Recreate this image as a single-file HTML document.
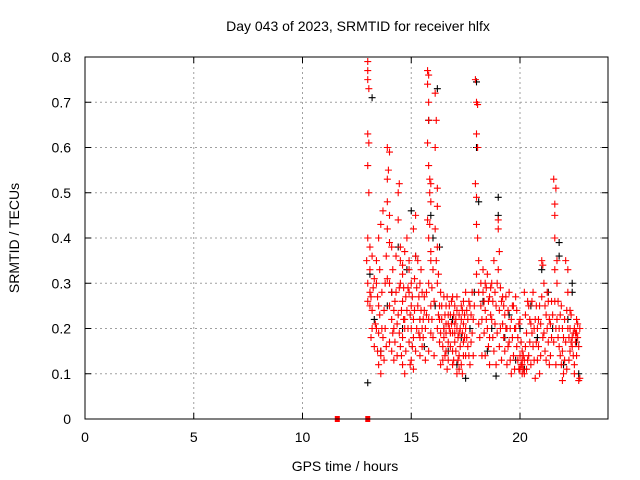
<!DOCTYPE html>
<html><head><meta charset="utf-8"><style>
body{margin:0;background:#fff;}
svg{display:block;font-family:"Liberation Sans",sans-serif;}
</style></head><body>
<svg id="chart" width="640" height="480">
<g id="grid"></g>
<g id="pts"></g>
<rect x="85" y="57" width="523" height="362" fill="none" stroke="#000"/>
<g id="ticks"></g>
<text x="358" y="31" text-anchor="middle" font-size="14">Day 043 of 2023, SRMTID for receiver hlfx</text>
<text x="345" y="471" text-anchor="middle" font-size="14">GPS time / hours</text>
<text transform="translate(19,238) rotate(-90)" text-anchor="middle" font-size="14">SRMTID / TECUs</text>
</svg>
<script>
const xTicks=[0,5,10,15,20];
const yTicks=[0,0.1,0.2,0.3,0.4,0.5,0.6,0.7,0.8];
const yTickLabels=["0","0.1","0.2","0.3","0.4","0.5","0.6","0.7","0.8"];
const zeroHours=[11.6,13.0];
const blackPts=[[13.0,0.08],[13.1,0.32],[13.2,0.71],[13.3,0.22],[13.6,0.15],[13.9,0.25],[14.1,0.28],[14.4,0.38],[14.6,0.2],[14.8,0.33],[15.0,0.46],[15.2,0.36],[15.4,0.22],[15.6,0.16],[15.8,0.66],[15.9,0.45],[16.0,0.4],[16.1,0.25],[16.2,0.73],[16.3,0.38],[16.5,0.2],[16.7,0.15],[16.9,0.22],[17.1,0.12],[17.3,0.18],[17.5,0.09],[17.7,0.2],[17.9,0.28],[18.0,0.745],[18.0,0.6],[18.1,0.48],[18.3,0.26],[18.5,0.15],[18.7,0.2],[18.9,0.095],[19.0,0.49],[19.0,0.45],[19.3,0.18],[19.5,0.23],[19.8,0.13],[20.0,0.2],[20.2,0.11],[20.5,0.25],[20.8,0.18],[21.0,0.33],[21.3,0.28],[21.5,0.2],[21.8,0.39],[21.8,0.36],[22.0,0.12],[22.2,0.22],[22.4,0.3],[22.4,0.28],[22.6,0.17],[22.7,0.1]];
const redPts=[
[13.0,0.79],[13.0,0.77],[13.0,0.75],[13.05,0.73],[13.0,0.63],[13.05,0.61],[13.0,0.56],[13.05,0.5],[13.0,0.4],[12.95,0.35],[13.1,0.33],[13.0,0.3],[13.1,0.28],[13.0,0.26],[13.1,0.25],[13.2,0.2],[13.1,0.38],[13.2,0.36],[13.3,0.31],
[13.4,0.35],[13.4,0.3],[13.5,0.25],[13.4,0.2],[13.5,0.19],[13.6,0.15],[13.5,0.12],[13.6,0.1],[13.6,0.14],[13.7,0.18],[13.6,0.43],[13.7,0.46],[13.5,0.4],
[13.9,0.6],[14.0,0.59],[13.9,0.53],[13.95,0.55],[13.9,0.48],[14.0,0.45],[13.9,0.42],[14.0,0.39],[14.1,0.38],[13.9,0.31],[14.0,0.3],[14.1,0.28],[14.0,0.25],[14.1,0.22],[14.2,0.2],[14.0,0.17],[14.1,0.15],[14.2,0.13],[14.2,0.24],
[14.3,0.28],[14.3,0.36],[14.4,0.5],[14.45,0.52],[14.4,0.44],[14.5,0.38],[14.5,0.35],[14.6,0.32],[14.5,0.3],[14.6,0.26],[14.4,0.23],[14.7,0.2],[14.6,0.18],[14.5,0.16],[14.7,0.22],[14.8,0.24],[14.6,0.12],[14.7,0.1],[14.7,0.37],[14.6,0.34],
[14.8,0.4],[14.9,0.35],[14.9,0.33],[15.0,0.3],[14.9,0.28],[15.0,0.25],[15.1,0.22],[15.0,0.2],[15.1,0.18],[15.2,0.15],[15.0,0.13],[15.1,0.11],[15.1,0.42],[15.2,0.45],[15.2,0.36],[14.9,0.17],
[15.3,0.35],[15.4,0.3],[15.3,0.25],[15.4,0.22],[15.5,0.2],[15.4,0.18],[15.5,0.16],[15.4,0.14],[15.6,0.24],[15.5,0.28],
[15.75,0.77],[15.8,0.76],[15.75,0.74],[15.8,0.7],[15.8,0.66],[15.75,0.61],[15.8,0.56],[15.85,0.53],[15.85,0.5],[15.9,0.48],[15.75,0.44],[15.8,0.4],[15.9,0.35],[15.8,0.3],[15.7,0.28],[15.9,0.25],[15.8,0.22],[15.9,0.19],[15.8,0.15],[15.9,0.52],[15.85,0.43],[15.9,0.37],
[16.1,0.72],[16.15,0.66],[16.1,0.6],[16.2,0.51],[16.2,0.47],[16.1,0.42],[16.2,0.38],[16.15,0.35],[16.2,0.3],[16.3,0.25],[16.2,0.2],[16.3,0.17],[16.3,0.22],[16.35,0.12],
[16.4,0.22],[16.5,0.2],[16.5,0.18],[16.6,0.25],[16.6,0.21],[16.7,0.17],[16.7,0.13],[16.8,0.23],[16.8,0.19],[16.9,0.15],[16.9,0.27],[17.0,0.21],[17.0,0.17],[17.1,0.24],[17.1,0.1],[17.2,0.19],[17.2,0.14],[17.3,0.22],[17.3,0.12],[17.4,0.26],[17.4,0.17],[17.5,0.2],[17.5,0.14],[16.5,0.27],[16.6,0.15],[16.7,0.23],[16.9,0.12],[17.0,0.25],[17.2,0.11],[17.4,0.21],[16.45,0.16],[16.75,0.2],[17.15,0.18],[17.35,0.24],[17.6,0.22],[17.6,0.16],[17.7,0.12],[17.7,0.25],[17.8,0.19],[17.8,0.28],
[17.95,0.75],[18.0,0.7],[18.05,0.695],[18.0,0.63],[18.05,0.6],[17.95,0.52],[18.0,0.49],[18.0,0.43],[18.05,0.4],[18.1,0.35],[18.0,0.32],[18.1,0.28],[18.2,0.25],[18.1,0.21],
[18.3,0.33],[18.3,0.28],[18.4,0.3],[18.4,0.24],[18.5,0.2],[18.5,0.32],[18.6,0.27],[18.6,0.18],[18.7,0.3],[18.7,0.22],[18.8,0.35],[18.8,0.15],[18.9,0.25],[18.9,0.12],[19.0,0.44],[19.0,0.42],[19.05,0.37],[19.0,0.33],[19.1,0.29],[19.1,0.2],[18.4,0.14],[18.6,0.12],
[19.2,0.27],[19.3,0.23],[19.3,0.15],[19.4,0.2],[19.4,0.12],[19.5,0.28],[19.5,0.17],[19.6,0.22],[19.6,0.1],[19.7,0.25],[19.7,0.14],[19.8,0.2],[19.8,0.27],[19.9,0.13],[19.9,0.18],[20.0,0.22],[20.0,0.11],[20.1,0.15],[20.1,0.12],[20.2,0.13],[20.2,0.28],[20.3,0.11],[20.3,0.19],[20.4,0.25],[20.4,0.14],[20.5,0.21],[20.1,0.1],[20.05,0.12],[20.15,0.11],
[20.6,0.28],[20.6,0.16],[20.7,0.22],[20.7,0.09],[20.8,0.2],[20.8,0.13],[20.9,0.25],[20.9,0.1],[21.0,0.35],[21.05,0.34],[21.1,0.3],[21.1,0.19],[21.2,0.23],[21.2,0.13],[21.3,0.26],[21.3,0.17],[21.4,0.14],[21.4,0.21],
[21.55,0.53],[21.65,0.51],[21.6,0.475],[21.6,0.45],[21.6,0.4],[21.7,0.35],[21.6,0.33],[21.7,0.3],[21.75,0.26],[21.7,0.22],[21.8,0.2],[21.8,0.16],[21.9,0.25],[21.9,0.12],[21.95,0.085],[22.0,0.18],[22.0,0.1],
[22.1,0.35],[22.2,0.33],[22.2,0.28],[22.3,0.24],[22.2,0.2],[22.4,0.18],[22.3,0.15],[22.5,0.12],[22.5,0.1],[22.6,0.19],[22.6,0.22],[22.7,0.085],[22.75,0.09],[22.4,0.16],[22.5,0.2]
];
const redExtra=[
[13.15,0.27],[13.2,0.24],[13.25,0.29],[13.15,0.18],[13.3,0.16],[13.35,0.21],[13.45,0.27],[13.45,0.15],[13.55,0.33],[13.55,0.23],[13.65,0.2],[13.65,0.28],[13.75,0.24],[13.75,0.13],[13.8,0.2],[13.8,0.3],[13.85,0.16],[13.85,0.36],
[14.15,0.19],[14.15,0.33],[14.25,0.26],[14.25,0.17],[14.35,0.21],[14.35,0.14],[14.45,0.29],[14.45,0.19],[14.55,0.24],[14.55,0.14],[14.65,0.29],[14.65,0.22],[14.75,0.27],[14.75,0.15],[14.85,0.2],[14.85,0.29],[14.95,0.23],[14.95,0.12],
[15.05,0.27],[15.05,0.16],[15.15,0.31],[15.15,0.24],[15.25,0.2],[15.25,0.29],[15.35,0.19],[15.35,0.27],[15.45,0.24],[15.45,0.33],[15.55,0.22],[15.55,0.18],[15.6,0.27],[15.65,0.2],[15.65,0.13],[15.7,0.23],
[15.95,0.22],[15.95,0.29],[16.0,0.18],[16.0,0.33],[16.05,0.26],[16.05,0.14],[16.25,0.23],[16.25,0.32],[16.35,0.28],[16.35,0.19],
[16.4,0.25],[16.45,0.13],[16.55,0.23],[16.55,0.14],[16.6,0.19],[16.65,0.27],[16.65,0.11],[16.7,0.21],[16.75,0.25],[16.8,0.16],[16.85,0.21],[16.85,0.26],[16.9,0.19],[16.95,0.23],[16.95,0.13],[17.0,0.19],[17.05,0.22],[17.05,0.15],[17.1,0.2],[17.1,0.27],[17.15,0.13],[17.2,0.23],[17.25,0.2],[17.25,0.16],[17.3,0.25],[17.35,0.19],[17.35,0.1],[17.4,0.14],[17.45,0.23],[17.45,0.18],[17.5,0.28],[17.55,0.18],[17.55,0.24],[17.65,0.14],[17.65,0.26],[17.75,0.17],[17.75,0.23],[17.85,0.22],[17.85,0.14],[17.9,0.25],
[18.15,0.18],[18.2,0.3],[18.25,0.22],[18.25,0.14],[18.35,0.19],[18.35,0.26],[18.45,0.22],[18.45,0.29],[18.55,0.16],[18.55,0.26],[18.65,0.23],[18.65,0.29],[18.75,0.18],[18.75,0.26],[18.85,0.21],[18.85,0.28],[18.95,0.19],[18.95,0.3],[19.05,0.24],[19.05,0.16],[19.15,0.26],[19.15,0.13],
[19.2,0.21],[19.25,0.18],[19.25,0.25],[19.35,0.2],[19.35,0.27],[19.45,0.16],[19.45,0.24],[19.55,0.2],[19.55,0.13],[19.65,0.18],[19.65,0.25],[19.75,0.11],[19.75,0.2],[19.85,0.16],[19.85,0.24],[19.95,0.11],[19.95,0.21],[20.0,0.14],[20.05,0.17],[20.1,0.13],[20.15,0.14],[20.2,0.1],[20.25,0.16],[20.25,0.23],[20.35,0.13],[20.35,0.26],[20.45,0.17],[20.45,0.22],[20.5,0.12],[20.55,0.26],[20.55,0.19],
[20.65,0.2],[20.65,0.13],[20.75,0.25],[20.75,0.17],[20.85,0.22],[20.85,0.16],[20.95,0.21],[20.95,0.14],[21.0,0.27],[21.05,0.18],[21.15,0.25],[21.15,0.15],[21.25,0.2],[21.25,0.28],[21.35,0.22],[21.35,0.12],[21.45,0.18],[21.45,0.26],[21.5,0.23],[21.55,0.17],[21.6,0.26],[21.65,0.2],[21.65,0.12],[21.75,0.18],[21.85,0.23],[21.85,0.14],[21.95,0.2],[21.95,0.15],
[22.05,0.22],[22.05,0.13],[22.1,0.17],[22.15,0.24],[22.15,0.11],[22.25,0.18],[22.25,0.13],[22.3,0.2],[22.35,0.17],[22.35,0.23],[22.45,0.19],[22.45,0.14],[22.55,0.17],[22.55,0.19],[22.6,0.14],[22.65,0.21],[22.65,0.18],[22.7,0.16],[22.75,0.2]
];
const X=h=>85+h*21.75, Y=v=>419-v*452.5;
const NS="http://www.w3.org/2000/svg";
const grid=document.getElementById('grid'),ticks=document.getElementById('ticks'),pts=document.getElementById('pts');
function mk(tag,a,p){const e=document.createElementNS(NS,tag);for(const k in a)e.setAttribute(k,a[k]);p.appendChild(e);return e;}
xTicks.forEach(t=>{const x=X(t);
 if(t>0){const g=mk('line',{x1:x,x2:x,y1:57,y2:419,stroke:'#a0a0a0','stroke-dasharray':'2,3'},grid);
 
 }
 mk('line',{x1:x,x2:x,y1:419,y2:413,stroke:'#000'},ticks);mk('line',{x1:x,x2:x,y1:57,y2:63,stroke:'#000'},ticks);
 const l=mk('text',{x:x,y:442,'text-anchor':'middle','font-size':14},ticks);l.textContent=t;
 
 });
yTicks.forEach((t,i)=>{const y=Y(t);
 if(t>0){const g=mk('line',{x1:85,x2:608,y1:y,y2:y,stroke:'#a0a0a0','stroke-dasharray':'2,3'},grid);
 
 }
 mk('line',{x1:85,x2:91,y1:y,y2:y,stroke:'#000'},ticks);mk('line',{x1:602,x2:608,y1:y,y2:y,stroke:'#000'},ticks);
 const l=mk('text',{x:71,y:y+5,'text-anchor':'end','font-size':14},ticks);l.textContent=yTickLabels[i];
 
 });
function plus(h,v,c){const x=X(h),y=Y(v);
 const p=mk('path',{d:`M${x-3.5},${y}H${x+3.5}M${x},${y-3.5}V${y+3.5}`,stroke:c,'stroke-width':1.1,fill:'none'},pts);
 
 }
blackPts.forEach(p=>plus(p[0],p[1],'#000'));
redPts.forEach(p=>plus(p[0],p[1],'#f00'));
redExtra.forEach(p=>plus(p[0],p[1],'#f00'));
zeroHours.forEach(h=>{const r=mk('rect',{x:X(h)-2.5,y:Y(0)-3,width:5,height:6,fill:'#f00'},pts);
 
 });
</script>
</body></html>
